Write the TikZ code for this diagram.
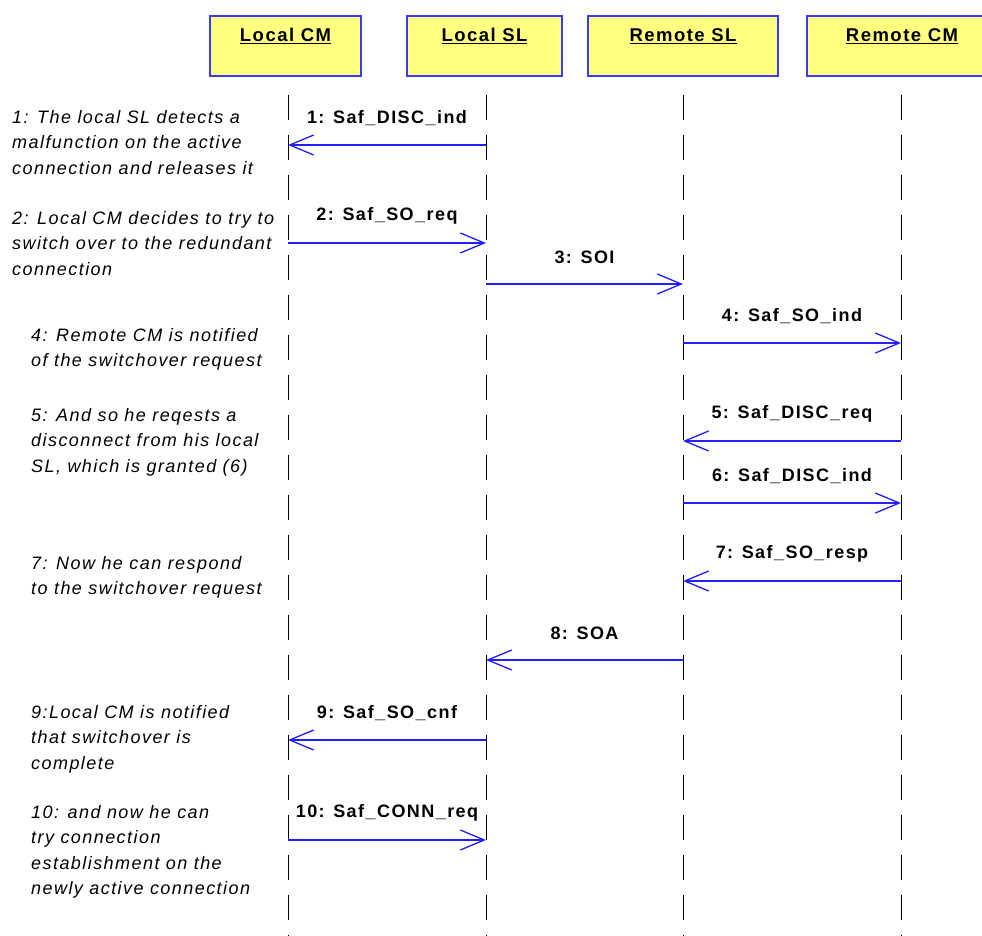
\documentclass[tikz,border=0pt]{standalone}
\usepackage{fontspec}
\setmainfont{Liberation Sans}[LetterSpace=8]
\usetikzlibrary{arrows.meta}
\definecolor{msgblue}{HTML}{1F1FFF}
\definecolor{headfill}{HTML}{FFFF80}
\definecolor{headline}{HTML}{3A3AFF}

\begin{document}
\begin{tikzpicture}[x=1pt, y=-1pt,
  head/.style={draw=headline, line width=1.3pt, fill=headfill,
               font=\fontsize{18.5}{20}\selectfont\bfseries,
               inner xsep=0pt, inner ysep=4pt, text height=22pt, text depth=30pt},
  life/.style={draw=black, line width=1pt, dash pattern=on 25pt off 15pt},
  msg/.style={-{Straight Barb[length=24pt,width=20pt]}, draw=msgblue, line width=1.3pt},
  lbl/.style={font=\fontsize{18}{20}\selectfont\bfseries, yshift=27pt},
  note/.style={font=\fontsize{18}{25.5}\selectfont\itshape, align=left,
               anchor=north west, inner sep=0pt},
]
\useasboundingbox (0,0) rectangle (982,936);

% object boxes
\node[head, minimum width=151pt] (hLCM) at (285.5,46) {\underline{Local CM}};
\node[head, minimum width=155pt] (hLSL) at (484.5,46) {\underline{Local SL}};
\node[head, minimum width=190pt] (hRSL) at (683,46) {\underline{Remote SL}};
\node[head, minimum width=190pt] (hRCM) at (902,46) {\underline{Remote CM}};

% lifelines
\coordinate (lcm) at (288,95);
\coordinate (lsl) at (486,95);
\coordinate (rsl) at (683,95);
\coordinate (rcm) at (901,95);
\coordinate (bottom) at (0,940);
\draw[life] (lcm) -- (lcm |- bottom);
\draw[life] (lsl) -- (lsl |- bottom);
\draw[life] (rsl) -- (rsl |- bottom);
\draw[life] (rcm) -- (rcm |- bottom);

% message rows
\coordinate (m1) at (0,145);
\coordinate (m2) at (0,243);
\coordinate (m3) at (0,284);
\coordinate (m4) at (0,343);
\coordinate (m5) at (0,441);
\coordinate (m6) at (0,503);
\coordinate (m7) at (0,581);
\coordinate (m8) at (0,660);
\coordinate (m9) at (0,740);
\coordinate (m10) at (0,840);

\draw[msg] (lsl |- m1) -- node[lbl] {1: Saf\_DISC\_ind} (lcm |- m1);
\draw[msg] (lcm |- m2) -- node[lbl] {2: Saf\_SO\_req} (lsl |- m2);
\draw[msg] (lsl |- m3) -- node[lbl] {3: SOI} (rsl |- m3);
\draw[msg] (rsl |- m4) -- node[lbl] {4: Saf\_SO\_ind} (rcm |- m4);
\draw[msg] (rcm |- m5) -- node[lbl] {5: Saf\_DISC\_req} (rsl |- m5);
\draw[msg] (rsl |- m6) -- node[lbl] {6: Saf\_DISC\_ind} (rcm |- m6);
\draw[msg] (rcm |- m7) -- node[lbl] {7: Saf\_SO\_resp} (rsl |- m7);
\draw[msg] (rsl |- m8) -- node[lbl] {8: SOA} (lsl |- m8);
\draw[msg] (lsl |- m9) -- node[lbl] {9: Saf\_SO\_cnf} (lcm |- m9);
\draw[msg] (lcm |- m10) -- node[lbl] {10: Saf\_CONN\_req} (lsl |- m10);

% notes down the left side
\node[note] (n1) at (12,110) {1: The local SL detects a\\malfunction on the active\\connection and releases it};
\node[note] (n2) at (12,211) {2: Local CM decides to try to\\switch over to the redundant\\connection};
\node[note] (n4) at (31,328) {4: Remote CM is notified\\of the switchover request};
\node[note] (n5) at (31,408) {5: And so he reqests a\\disconnect from his local\\SL, which is granted (6)};
\node[note] (n7) at (31,556) {7: Now he can respond\\to the switchover request};
\node[note] (n9) at (31,705) {9:Local CM is notified\\that switchover is\\complete};
\node[note] (n10) at (31,805) {10: and now he can\\try connection\\establishment on the\\newly active connection};
\end{tikzpicture}
\end{document}
